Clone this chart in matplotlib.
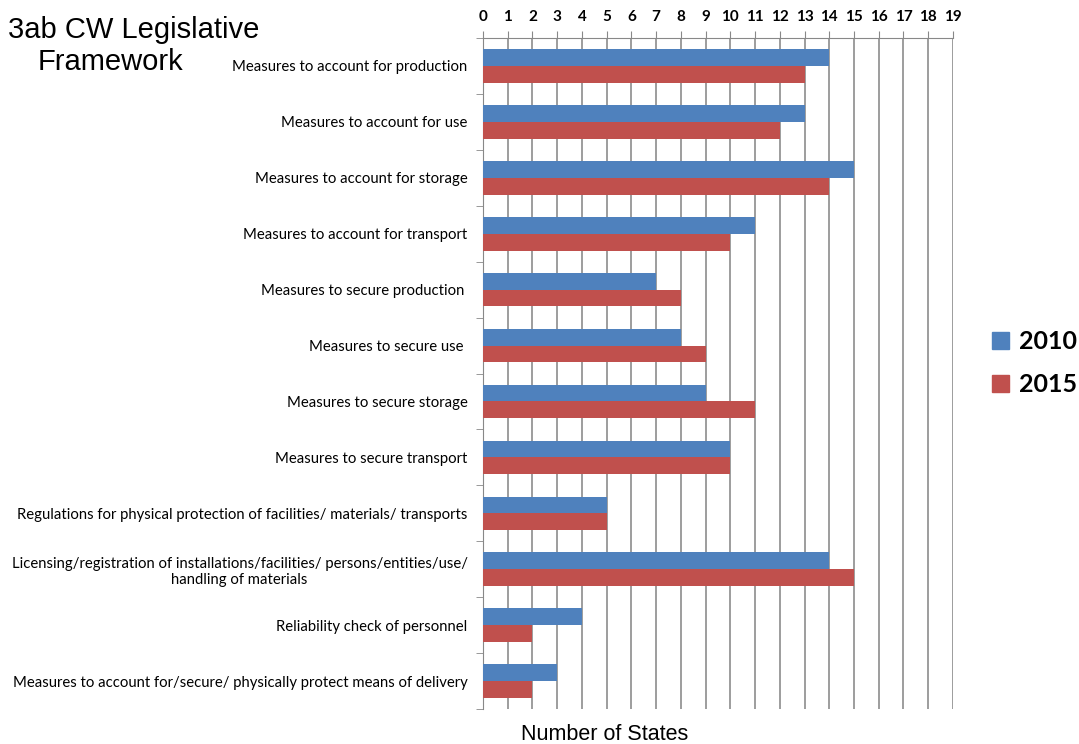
import matplotlib.pyplot as plt
import numpy as np
from matplotlib.patches import Patch

categories = [
    "Measures to account for production",
    "Measures to account for use",
    "Measures to account for storage",
    "Measures to account for transport",
    "Measures to secure production ",
    "Measures to secure use ",
    "Measures to secure storage",
    "Measures to secure transport",
    "Regulations for physical protection of facilities/ materials/ transports",
    "Licensing/registration of installations/facilities/ persons/entities/use/\nhandling of materials",
    "Reliability check of personnel",
    "Measures to account for/secure/ physically protect means of delivery",
]
values_2010 = [14, 13, 15, 11, 7, 8, 9, 10, 5, 14, 4, 3]
values_2015 = [13, 12, 14, 10, 8, 9, 11, 10, 5, 15, 2, 2]
x_ticks = list(range(0, 20))

blue = "#4F81BD"
red = "#C0504D"
label_font = ["Lato", "DejaVu Sans"]

fig = plt.figure(figsize=(10.79, 7.44), dpi=100)
ax = fig.add_axes([0.4476, 0.047, 0.4356, 0.9019])

y = np.arange(len(categories))
h = 0.3
ax.barh(y - h / 2, values_2010, height=h, color=blue, zorder=3)
ax.barh(y + h / 2, values_2015, height=h, color=red, zorder=3)

ax.set_xlim(0, 19)
ax.set_ylim(len(categories) - 0.5, -0.5)
ax.set_xticks(x_ticks)
ax.xaxis.tick_top()
ax.tick_params(axis="x", length=5, color="#888888", labelsize=11, pad=5)
for t in ax.get_xticklabels():
    t.set_family(label_font)
    t.set_fontweight("bold")

ax.set_yticks(y)
ax.set_yticklabels(categories, fontsize=10.7, family=label_font,
                   multialignment="center")
ax.tick_params(axis="y", length=0, pad=11)
ax.set_yticks(np.arange(len(categories) + 1) - 0.5, minor=True)
ax.tick_params(axis="y", which="minor", length=5, color="#888888")

ax.grid(axis="x", color="#8c8c8c", linewidth=1.2, zorder=0)
for side in ["right", "bottom"]:
    ax.spines[side].set_visible(False)
for side in ["left", "top"]:
    ax.spines[side].set_color("#888888")

# title, two lines placed separately as in the original slide
fig.text(134 / 1079, 1 - 30 / 744, "3ab CW Legislative", fontsize=21,
         family="Liberation Sans", ha="center", va="center")
fig.text(110 / 1079, 1 - 62 / 744, "Framework", fontsize=21,
         family="Liberation Sans", ha="center", va="center")
fig.text(605 / 1079, 1 - 734 / 744, "Number of States", fontsize=15.5,
         family="Liberation Sans", ha="center", va="center")

handles = [Patch(color=blue, label="2010"), Patch(color=red, label="2015")]
fig.legend(handles=handles, loc="center left",
           bbox_to_anchor=(969 / 1079, 1 - 363 / 744), frameon=False,
           prop={"family": label_font, "size": 18, "weight": "bold"},
           handlelength=0.7, handleheight=0.7, handletextpad=0.4,
           labelspacing=0.8)

fig.savefig("out.png", dpi=100)
